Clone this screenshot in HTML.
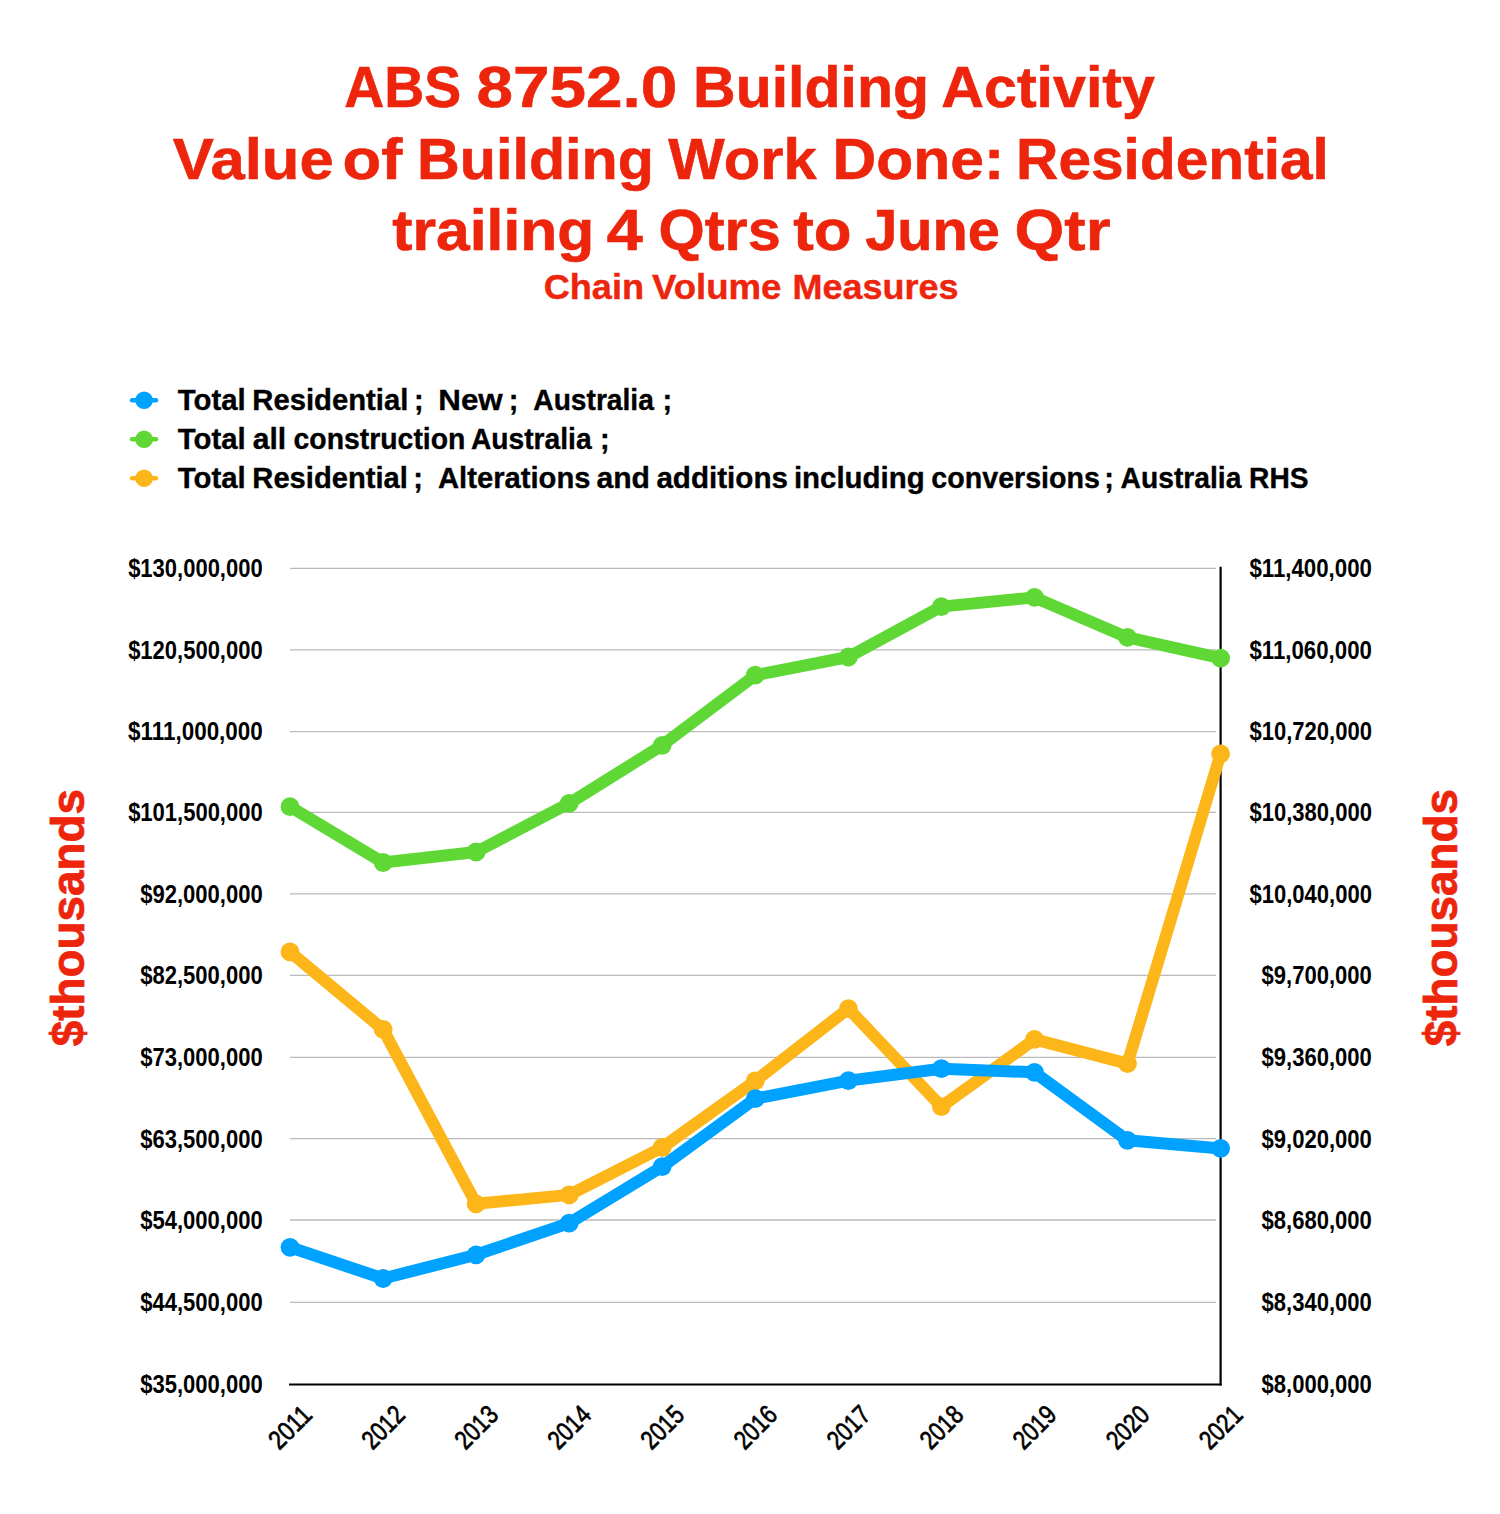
<!DOCTYPE html><html><head><meta charset="utf-8"><title>ABS 8752.0 Building Activity</title>
<style>html,body{margin:0;padding:0;background:#fff;}body{width:1500px;height:1514px;overflow:hidden;}svg{display:block;}text{font-family:"Liberation Sans",Arial,sans-serif;font-weight:bold;white-space:pre;}</style></head><body>
<svg width="1500" height="1514" viewBox="0 0 1500 1514">
<rect width="1500" height="1514" fill="#fff"/>
<text y="106.70" font-size="58" fill="#EC250C" stroke="#EC250C" stroke-width="0.6"><tspan x="344.22" textLength="116.94" lengthAdjust="spacingAndGlyphs">ABS</tspan> <tspan x="476.47" textLength="200.84" lengthAdjust="spacingAndGlyphs">8752.0</tspan> <tspan x="693.01" textLength="236.12" lengthAdjust="spacingAndGlyphs">Building</tspan> <tspan x="941.32" textLength="213.57" lengthAdjust="spacingAndGlyphs">Activity</tspan></text>
<text y="178.60" font-size="58" fill="#EC250C" stroke="#EC250C" stroke-width="0.6"><tspan x="172.84" textLength="160.89" lengthAdjust="spacingAndGlyphs">Value</tspan> <tspan x="342.47" textLength="59.76" lengthAdjust="spacingAndGlyphs">of</tspan> <tspan x="417.00" textLength="236.95" lengthAdjust="spacingAndGlyphs">Building</tspan> <tspan x="668.30" textLength="148.37" lengthAdjust="spacingAndGlyphs">Work</tspan> <tspan x="832.61" textLength="171.47" lengthAdjust="spacingAndGlyphs">Done:</tspan> <tspan x="1016.04" textLength="312.87" lengthAdjust="spacingAndGlyphs">Residential</tspan></text>
<text y="250.00" font-size="58" fill="#EC250C" stroke="#EC250C" stroke-width="0.6"><tspan x="392.24" textLength="202.07" lengthAdjust="spacingAndGlyphs">trailing</tspan> <tspan x="606.73" textLength="35.97" lengthAdjust="spacingAndGlyphs">4</tspan> <tspan x="658.62" textLength="122.12" lengthAdjust="spacingAndGlyphs">Qtrs</tspan> <tspan x="793.23" textLength="58.38" lengthAdjust="spacingAndGlyphs">to</tspan> <tspan x="865.13" textLength="134.83" lengthAdjust="spacingAndGlyphs">June</tspan> <tspan x="1014.64" textLength="95.92" lengthAdjust="spacingAndGlyphs">Qtr</tspan></text>
<text y="298.50" font-size="35.5" fill="#EC250C" stroke="#EC250C" stroke-width="0.4"><tspan x="543.65" textLength="100.43" lengthAdjust="spacingAndGlyphs">Chain</tspan> <tspan x="651.93" textLength="129.57" lengthAdjust="spacingAndGlyphs">Volume</tspan> <tspan x="792.57" textLength="166.02" lengthAdjust="spacingAndGlyphs">Measures</tspan></text>
<line x1="132.1" y1="400.3" x2="156.0" y2="400.3" stroke="#00A2FF" stroke-width="4.6" stroke-linecap="round"/>
<circle cx="144.1" cy="400.3" r="8.8" fill="#00A2FF"/>
<text y="410.00" font-size="29" fill="#000" stroke="#000" stroke-width="0.35"><tspan x="177.71" textLength="67.93" lengthAdjust="spacingAndGlyphs">Total</tspan> <tspan x="252.33" textLength="156.03" lengthAdjust="spacingAndGlyphs">Residential</tspan> <tspan x="413.98" textLength="9.66" lengthAdjust="spacingAndGlyphs">;</tspan>  <tspan x="438.28" textLength="64.48" lengthAdjust="spacingAndGlyphs">New</tspan> <tspan x="508.78" textLength="9.66" lengthAdjust="spacingAndGlyphs">;</tspan>  <tspan x="533.30" textLength="120.55" lengthAdjust="spacingAndGlyphs">Australia</tspan> <tspan x="662.38" textLength="9.66" lengthAdjust="spacingAndGlyphs">;</tspan></text>
<line x1="132.1" y1="439.3" x2="156.0" y2="439.3" stroke="#5FD836" stroke-width="4.6" stroke-linecap="round"/>
<circle cx="144.1" cy="439.3" r="8.8" fill="#5FD836"/>
<text y="449.00" font-size="29" fill="#000" stroke="#000" stroke-width="0.35"><tspan x="177.71" textLength="67.93" lengthAdjust="spacingAndGlyphs">Total</tspan> <tspan x="252.80" textLength="33.38" lengthAdjust="spacingAndGlyphs">all</tspan> <tspan x="293.56" textLength="171.86" lengthAdjust="spacingAndGlyphs">construction</tspan> <tspan x="470.89" textLength="120.75" lengthAdjust="spacingAndGlyphs">Australia</tspan> <tspan x="600.08" textLength="9.66" lengthAdjust="spacingAndGlyphs">;</tspan></text>
<line x1="132.1" y1="478.3" x2="156.0" y2="478.3" stroke="#FDB61A" stroke-width="4.6" stroke-linecap="round"/>
<circle cx="144.1" cy="478.3" r="8.8" fill="#FDB61A"/>
<text y="488.00" font-size="29" fill="#000" stroke="#000" stroke-width="0.35"><tspan x="177.71" textLength="67.93" lengthAdjust="spacingAndGlyphs">Total</tspan> <tspan x="252.33" textLength="155.62" lengthAdjust="spacingAndGlyphs">Residential</tspan> <tspan x="413.18" textLength="9.66" lengthAdjust="spacingAndGlyphs">;</tspan>  <tspan x="437.97" textLength="152.52" lengthAdjust="spacingAndGlyphs">Alterations</tspan> <tspan x="596.40" textLength="53.57" lengthAdjust="spacingAndGlyphs">and</tspan> <tspan x="656.41" textLength="131.53" lengthAdjust="spacingAndGlyphs">additions</tspan> <tspan x="793.94" textLength="130.72" lengthAdjust="spacingAndGlyphs">including</tspan> <tspan x="931.36" textLength="168.53" lengthAdjust="spacingAndGlyphs">conversions</tspan> <tspan x="1104.18" textLength="9.66" lengthAdjust="spacingAndGlyphs">;</tspan> <tspan x="1120.59" textLength="120.75" lengthAdjust="spacingAndGlyphs">Australia</tspan> <tspan x="1249.10" textLength="59.50" lengthAdjust="spacingAndGlyphs">RHS</tspan></text>
<line x1="290" y1="568.30" x2="1216" y2="568.30" stroke="#bababa" stroke-width="1.3"/>
<line x1="290" y1="649.80" x2="1216" y2="649.80" stroke="#bababa" stroke-width="1.3"/>
<line x1="290" y1="731.60" x2="1216" y2="731.60" stroke="#bababa" stroke-width="1.3"/>
<line x1="290" y1="812.30" x2="1216" y2="812.30" stroke="#bababa" stroke-width="1.3"/>
<line x1="290" y1="893.90" x2="1216" y2="893.90" stroke="#bababa" stroke-width="1.3"/>
<line x1="290" y1="975.40" x2="1216" y2="975.40" stroke="#bababa" stroke-width="1.3"/>
<line x1="290" y1="1057.30" x2="1216" y2="1057.30" stroke="#bababa" stroke-width="1.3"/>
<line x1="290" y1="1138.70" x2="1216" y2="1138.70" stroke="#bababa" stroke-width="1.3"/>
<line x1="290" y1="1220.00" x2="1216" y2="1220.00" stroke="#bababa" stroke-width="1.3"/>
<line x1="290" y1="1302.30" x2="1216" y2="1302.30" stroke="#bababa" stroke-width="1.3"/>
<line x1="289" y1="1384.5" x2="1221.7" y2="1384.5" stroke="#000" stroke-width="2.2"/>
<line x1="1220.6" y1="566.8" x2="1220.6" y2="1385.5" stroke="#000" stroke-width="2.2"/>
<text x="128.13" y="577.10" font-size="25.5" fill="#000" textLength="134.55" lengthAdjust="spacingAndGlyphs">$130,000,000</text>
<text x="128.13" y="658.60" font-size="25.5" fill="#000" textLength="134.55" lengthAdjust="spacingAndGlyphs">$120,500,000</text>
<text x="128.12" y="740.40" font-size="25.5" fill="#000" textLength="134.62" lengthAdjust="spacingAndGlyphs">$111,000,000</text>
<text x="128.13" y="821.10" font-size="25.5" fill="#000" textLength="134.55" lengthAdjust="spacingAndGlyphs">$101,500,000</text>
<text x="140.22" y="902.70" font-size="25.5" fill="#000" textLength="122.48" lengthAdjust="spacingAndGlyphs">$92,000,000</text>
<text x="140.22" y="984.20" font-size="25.5" fill="#000" textLength="122.48" lengthAdjust="spacingAndGlyphs">$82,500,000</text>
<text x="140.22" y="1066.10" font-size="25.5" fill="#000" textLength="122.48" lengthAdjust="spacingAndGlyphs">$73,000,000</text>
<text x="140.22" y="1147.50" font-size="25.5" fill="#000" textLength="122.48" lengthAdjust="spacingAndGlyphs">$63,500,000</text>
<text x="140.22" y="1228.80" font-size="25.5" fill="#000" textLength="122.48" lengthAdjust="spacingAndGlyphs">$54,000,000</text>
<text x="140.22" y="1311.10" font-size="25.5" fill="#000" textLength="122.48" lengthAdjust="spacingAndGlyphs">$44,500,000</text>
<text x="140.22" y="1393.30" font-size="25.5" fill="#000" textLength="122.48" lengthAdjust="spacingAndGlyphs">$35,000,000</text>
<text x="1249.42" y="577.10" font-size="25.5" fill="#000" textLength="122.49" lengthAdjust="spacingAndGlyphs">$11,400,000</text>
<text x="1249.42" y="658.60" font-size="25.5" fill="#000" textLength="122.49" lengthAdjust="spacingAndGlyphs">$11,060,000</text>
<text x="1249.42" y="740.40" font-size="25.5" fill="#000" textLength="122.48" lengthAdjust="spacingAndGlyphs">$10,720,000</text>
<text x="1249.42" y="821.10" font-size="25.5" fill="#000" textLength="122.48" lengthAdjust="spacingAndGlyphs">$10,380,000</text>
<text x="1249.42" y="902.70" font-size="25.5" fill="#000" textLength="122.48" lengthAdjust="spacingAndGlyphs">$10,040,000</text>
<text x="1261.52" y="984.20" font-size="25.5" fill="#000" textLength="110.36" lengthAdjust="spacingAndGlyphs">$9,700,000</text>
<text x="1261.52" y="1066.10" font-size="25.5" fill="#000" textLength="110.36" lengthAdjust="spacingAndGlyphs">$9,360,000</text>
<text x="1261.52" y="1147.50" font-size="25.5" fill="#000" textLength="110.36" lengthAdjust="spacingAndGlyphs">$9,020,000</text>
<text x="1261.52" y="1228.80" font-size="25.5" fill="#000" textLength="110.36" lengthAdjust="spacingAndGlyphs">$8,680,000</text>
<text x="1261.52" y="1311.10" font-size="25.5" fill="#000" textLength="110.36" lengthAdjust="spacingAndGlyphs">$8,340,000</text>
<text x="1261.52" y="1393.30" font-size="25.5" fill="#000" textLength="110.36" lengthAdjust="spacingAndGlyphs">$8,000,000</text>
<text transform="translate(290.00,1427.00) rotate(-45) translate(0,9.27)" x="-24.34" y="0" font-size="26.5" fill="#000" style="font-weight:normal" textLength="48.45" lengthAdjust="spacingAndGlyphs" stroke="#000" stroke-width="0.7">2011</text>
<text transform="translate(383.06,1427.00) rotate(-45) translate(0,9.27)" x="-24.34" y="0" font-size="26.5" fill="#000" style="font-weight:normal" textLength="48.45" lengthAdjust="spacingAndGlyphs" stroke="#000" stroke-width="0.7">2012</text>
<text transform="translate(476.12,1427.00) rotate(-45) translate(0,9.27)" x="-24.34" y="0" font-size="26.5" fill="#000" style="font-weight:normal" textLength="48.45" lengthAdjust="spacingAndGlyphs" stroke="#000" stroke-width="0.7">2013</text>
<text transform="translate(569.18,1427.00) rotate(-45) translate(0,9.27)" x="-24.34" y="0" font-size="26.5" fill="#000" style="font-weight:normal" textLength="48.45" lengthAdjust="spacingAndGlyphs" stroke="#000" stroke-width="0.7">2014</text>
<text transform="translate(662.24,1427.00) rotate(-45) translate(0,9.27)" x="-24.34" y="0" font-size="26.5" fill="#000" style="font-weight:normal" textLength="48.45" lengthAdjust="spacingAndGlyphs" stroke="#000" stroke-width="0.7">2015</text>
<text transform="translate(755.30,1427.00) rotate(-45) translate(0,9.27)" x="-24.34" y="0" font-size="26.5" fill="#000" style="font-weight:normal" textLength="48.45" lengthAdjust="spacingAndGlyphs" stroke="#000" stroke-width="0.7">2016</text>
<text transform="translate(848.36,1427.00) rotate(-45) translate(0,9.27)" x="-24.34" y="0" font-size="26.5" fill="#000" style="font-weight:normal" textLength="48.45" lengthAdjust="spacingAndGlyphs" stroke="#000" stroke-width="0.7">2017</text>
<text transform="translate(941.42,1427.00) rotate(-45) translate(0,9.27)" x="-24.34" y="0" font-size="26.5" fill="#000" style="font-weight:normal" textLength="48.45" lengthAdjust="spacingAndGlyphs" stroke="#000" stroke-width="0.7">2018</text>
<text transform="translate(1034.48,1427.00) rotate(-45) translate(0,9.27)" x="-24.34" y="0" font-size="26.5" fill="#000" style="font-weight:normal" textLength="48.45" lengthAdjust="spacingAndGlyphs" stroke="#000" stroke-width="0.7">2019</text>
<text transform="translate(1127.54,1427.00) rotate(-45) translate(0,9.27)" x="-24.34" y="0" font-size="26.5" fill="#000" style="font-weight:normal" textLength="48.45" lengthAdjust="spacingAndGlyphs" stroke="#000" stroke-width="0.7">2020</text>
<text transform="translate(1220.60,1427.00) rotate(-45) translate(0,9.27)" x="-24.34" y="0" font-size="26.5" fill="#000" style="font-weight:normal" textLength="48.45" lengthAdjust="spacingAndGlyphs" stroke="#000" stroke-width="0.7">2021</text>
<text transform="translate(84,1045.6) rotate(-90)" x="-0.57" y="0" font-size="45.5" fill="#EC250C" textLength="257.10" lengthAdjust="spacingAndGlyphs" stroke="#EC250C" stroke-width="0.8">$thousands</text>
<text transform="translate(1456.5,1045.6) rotate(-90)" x="-0.57" y="0" font-size="45.5" fill="#EC250C" textLength="257.10" lengthAdjust="spacingAndGlyphs" stroke="#EC250C" stroke-width="0.8">$thousands</text>
<polyline points="290.0,951.9 383.1,1029.4 476.1,1203.8 569.2,1194.9 662.2,1147.5 755.3,1080.8 848.4,1008.6 941.4,1106.7 1034.5,1039.4 1127.5,1063.6 1220.6,753.8" fill="none" stroke="#FDB61A" stroke-width="12" stroke-linejoin="round" stroke-linecap="round"/>
<circle cx="290.0" cy="951.9" r="9.4" fill="#FDB61A"/>
<circle cx="383.1" cy="1029.4" r="9.4" fill="#FDB61A"/>
<circle cx="476.1" cy="1203.8" r="9.4" fill="#FDB61A"/>
<circle cx="569.2" cy="1194.9" r="9.4" fill="#FDB61A"/>
<circle cx="662.2" cy="1147.5" r="9.4" fill="#FDB61A"/>
<circle cx="755.3" cy="1080.8" r="9.4" fill="#FDB61A"/>
<circle cx="848.4" cy="1008.6" r="9.4" fill="#FDB61A"/>
<circle cx="941.4" cy="1106.7" r="9.4" fill="#FDB61A"/>
<circle cx="1034.5" cy="1039.4" r="9.4" fill="#FDB61A"/>
<circle cx="1127.5" cy="1063.6" r="9.4" fill="#FDB61A"/>
<circle cx="1220.6" cy="753.8" r="9.4" fill="#FDB61A"/>
<polyline points="290.0,806.7 383.1,862.5 476.1,852.0 569.2,803.3 662.2,745.3 755.3,675.2 848.4,657.0 941.4,606.6 1034.5,597.4 1127.5,637.4 1220.6,658.2" fill="none" stroke="#5FD836" stroke-width="12" stroke-linejoin="round" stroke-linecap="round"/>
<circle cx="290.0" cy="806.7" r="9.4" fill="#5FD836"/>
<circle cx="383.1" cy="862.5" r="9.4" fill="#5FD836"/>
<circle cx="476.1" cy="852.0" r="9.4" fill="#5FD836"/>
<circle cx="569.2" cy="803.3" r="9.4" fill="#5FD836"/>
<circle cx="662.2" cy="745.3" r="9.4" fill="#5FD836"/>
<circle cx="755.3" cy="675.2" r="9.4" fill="#5FD836"/>
<circle cx="848.4" cy="657.0" r="9.4" fill="#5FD836"/>
<circle cx="941.4" cy="606.6" r="9.4" fill="#5FD836"/>
<circle cx="1034.5" cy="597.4" r="9.4" fill="#5FD836"/>
<circle cx="1127.5" cy="637.4" r="9.4" fill="#5FD836"/>
<circle cx="1220.6" cy="658.2" r="9.4" fill="#5FD836"/>
<polyline points="290.0,1247.3 383.1,1278.5 476.1,1254.8 569.2,1223.1 662.2,1166.6 755.3,1098.6 848.4,1080.6 941.4,1068.7 1034.5,1072.3 1127.5,1140.3 1220.6,1148.4" fill="none" stroke="#00A2FF" stroke-width="12" stroke-linejoin="round" stroke-linecap="round"/>
<circle cx="290.0" cy="1247.3" r="9.4" fill="#00A2FF"/>
<circle cx="383.1" cy="1278.5" r="9.4" fill="#00A2FF"/>
<circle cx="476.1" cy="1254.8" r="9.4" fill="#00A2FF"/>
<circle cx="569.2" cy="1223.1" r="9.4" fill="#00A2FF"/>
<circle cx="662.2" cy="1166.6" r="9.4" fill="#00A2FF"/>
<circle cx="755.3" cy="1098.6" r="9.4" fill="#00A2FF"/>
<circle cx="848.4" cy="1080.6" r="9.4" fill="#00A2FF"/>
<circle cx="941.4" cy="1068.7" r="9.4" fill="#00A2FF"/>
<circle cx="1034.5" cy="1072.3" r="9.4" fill="#00A2FF"/>
<circle cx="1127.5" cy="1140.3" r="9.4" fill="#00A2FF"/>
<circle cx="1220.6" cy="1148.4" r="9.4" fill="#00A2FF"/>
</svg></body></html>
